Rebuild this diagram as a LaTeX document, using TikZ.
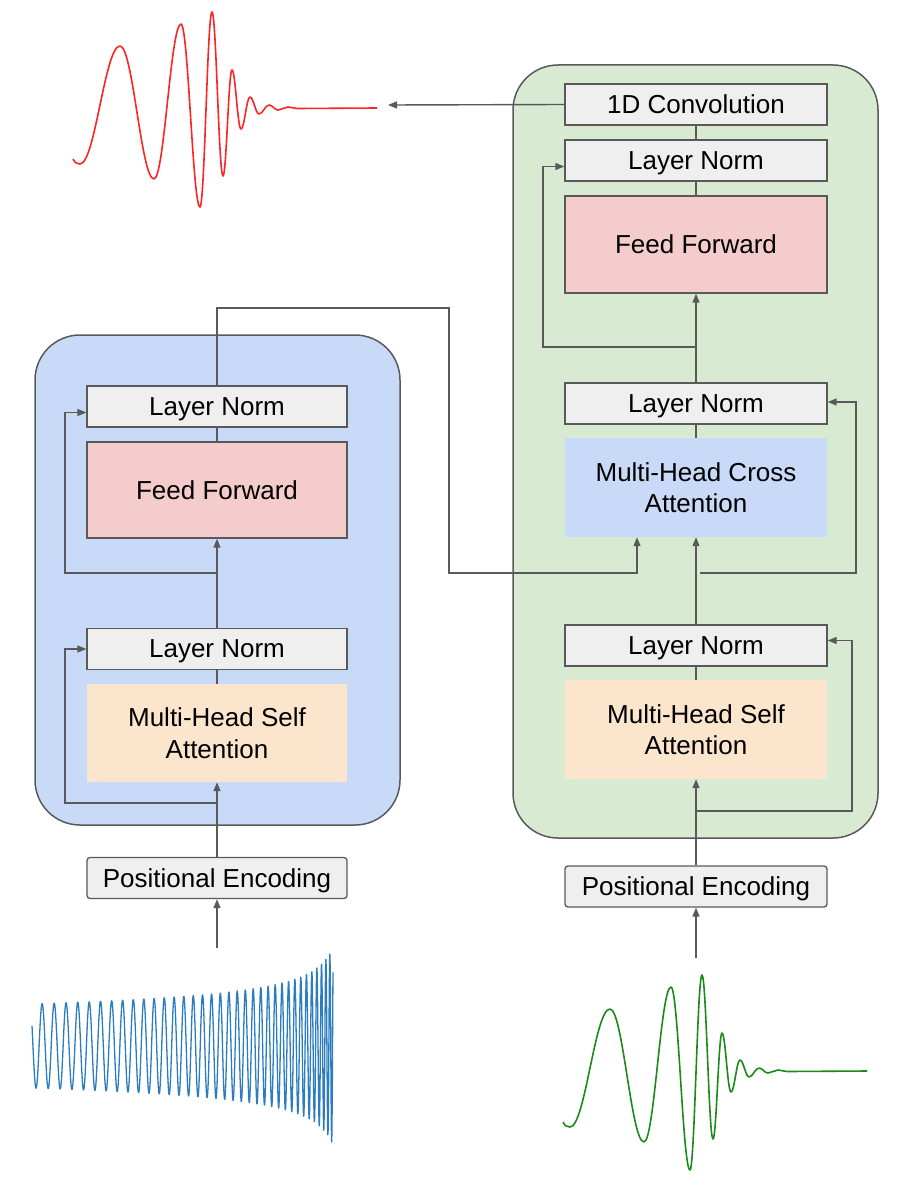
\documentclass[tikz,border=0pt]{standalone}
\usepackage{fontspec}
\setmainfont{Liberation Sans}
\usetikzlibrary{arrows.meta,calc}
\definecolor{edge}{HTML}{595959}
\definecolor{encblue}{HTML}{C9DAF8}
\definecolor{decgreen}{HTML}{D9EAD3}
\definecolor{ffpink}{HTML}{F4CCCC}
\definecolor{saorange}{HTML}{FCE5CD}
\definecolor{lngray}{HTML}{EFEFEF}
\definecolor{wavered}{HTML}{FF2424}
\definecolor{wavegreen}{HTML}{1B8A1B}
\definecolor{waveblue}{HTML}{2B7CC0}
\tikzset{
  pics/seis/.style={code={
    \draw[#1, line width=1.6pt, line join=round]
      (0,51) .. controls (2,55) and (4,56) .. (7,56)
      .. controls (22.2,56) and (31.8,-62) .. (47,-62)
      .. controls (59.9,-62) and (68.1,71) .. (81,71)
      .. controls (91.3,71) and (97.7,-84) .. (108,-84)
      .. controls (115.2,-84) and (119.8,99) .. (127,99)
      .. controls (131.6,99) and (134.4,-96) .. (139,-96)
      .. controls (143.2,-96) and (145.8,68) .. (150,68)
      .. controls (153.4,68) and (155.6,-38) .. (159,-38)
      .. controls (162.4,-38) and (164.6,21) .. (168,21)
      .. controls (171.4,21) and (173.6,-11) .. (177,-11)
      .. controls (180.4,-11) and (182.6,6) .. (186,6)
      .. controls (189.8,6) and (192.2,-3) .. (196,-3)
      .. controls (199.4,-3) and (201.6,2) .. (205,2)
      .. controls (208.8,2) and (211.2,-1) .. (215,-1)
      .. controls (218.4,-1) and (220.6,0.5) .. (224,0.5)
      -- (304,0);
  }},
  container/.style={draw=edge, line width=1.5pt, rounded corners=45pt, inner sep=0pt},
  lnbox/.style={draw=edge, line width=1.3pt, fill=lngray, minimum width=260pt, minimum height=41pt, inner sep=0pt, text depth=0pt},
  ffbox/.style={lnbox, fill=ffpink, minimum height=96pt},
  attbox/.style={minimum width=260pt, minimum height=98pt, align=center, inner sep=0pt},
  pebox/.style={lnbox, rounded corners=3pt},
  conn/.style={draw=edge, line width=1.4pt},
  flow/.style={conn, -{Triangle[length=9pt,width=7pt]}}
}
\begin{document}
\begin{tikzpicture}[x=1pt,y=-1pt, every node/.style={font=\fontsize{26}{31.5}\selectfont}]
\useasboundingbox (0,0) rectangle (900,1204);

% containers
\node[container, fill=encblue, minimum width=365pt, minimum height=490pt] (enc) at (217.5,580) {};
\node[container, fill=decgreen, minimum width=365pt, minimum height=773pt] (dec) at (695.5,451.5) {};

% encoder
\node[lnbox] (lln2) at (217,406.5) {Layer Norm};
\node[ffbox] (lff) at (217,490) {Feed Forward};
\node[lnbox] (lln1) at (217,649) {Layer Norm};
\node[attbox, fill=saorange] (lsa) at (217,733) {Multi-Head Self\\Attention};
\node[pebox] (lpe) at (217,878) {Positional Encoding};

% decoder
\node[lnbox, minimum width=262pt] (rconv) at (696,104.5) {1D Convolution};
\node[lnbox, minimum width=262pt] (rln3) at (696,160.5) {Layer Norm};
\node[ffbox, minimum width=262pt, minimum height=97pt] (rff) at (696,244.5) {Feed Forward};
\node[lnbox, minimum width=262pt] (rln2) at (696,403.5) {Layer Norm};
\node[attbox, fill=encblue, minimum width=262pt, minimum height=99pt] (rca) at (696,487.5) {Multi-Head Cross\\Attention};
\node[lnbox, minimum width=262pt] (rln1) at (696,645.5) {Layer Norm};
\node[attbox, fill=saorange, minimum width=262pt, minimum height=99pt] (rsa) at (696,729.5) {Multi-Head Self\\Attention};
\node[pebox, minimum width=262pt] (rpe) at (696,886.5) {Positional Encoding};

% coordinates
\coordinate (lin) at (217,948);
\coordinate (rin) at (696,958);
\coordinate (out) at (388,105);
\coordinate (lb1) at (217,803);
\coordinate (lb2) at (217,573);
\coordinate (rb1) at (696,811);
\coordinate (rb2) at (700,573);
\coordinate (rb3) at (696,347);
\coordinate (cross) at (637,573);

% encoder connectors
\draw[flow] (lin) -- (lpe.south);
\draw[flow] (lpe.north) -- (lsa.south);
\draw[flow] (lb1) -- (65,803) |- (lln1.west);
\draw[conn] (lsa.north) -- (lln1.south);
\draw[flow] (lln1.north) -- (lff.south);
\draw[flow] (lb2) -- (65,573) |- ($(lln2.west)+(0,6)$);
\draw[conn] (lff.north) -- (lln2.south);
\draw[flow] (lln2.north) -- (217,308) -- (449,308) -- (449,573) -- (cross) -- (cross |- rca.south);

% decoder connectors
\draw[flow] (rin) -- (rpe.south);
\draw[flow] (rpe.north) -- (rsa.south);
\draw[flow] (rb1) -- (852,811) |- ($(rln1.east)+(0,-5)$);
\draw[conn] (rsa.north) -- (rln1.south);
\draw[flow] (rln1.north) -- (rca.south);
\draw[flow] (rb2) -- (856,573) |- ($(rln2.east)+(0,-1.5)$);
\draw[conn] (rca.north) -- (rln2.south);
\draw[flow] (rln2.north) -- (rff.south);
\draw[flow] (rb3) -- (543,347) |- ($(rln3.west)+(0,6)$);
\draw[conn] (rff.north) -- (rln3.south);
\draw[conn] (rln3.north) -- (rconv.south);
\draw[flow] (rconv.west) -- (out);

% waveforms
\pic at (73,108) {seis=wavered};
\pic at (563,1071) {seis=wavegreen};
\draw[waveblue, line width=1.3pt, line join=round]
  plot[domain=32:333, samples=1400, variable=\t]
  (\t, {1046 - 42*pow(311/(343-\t),0.25)*sin(deg(7.03*(pow(311,0.625) - pow(343-\t,0.625)) + 2.64))});
\end{tikzpicture}
\end{document}
